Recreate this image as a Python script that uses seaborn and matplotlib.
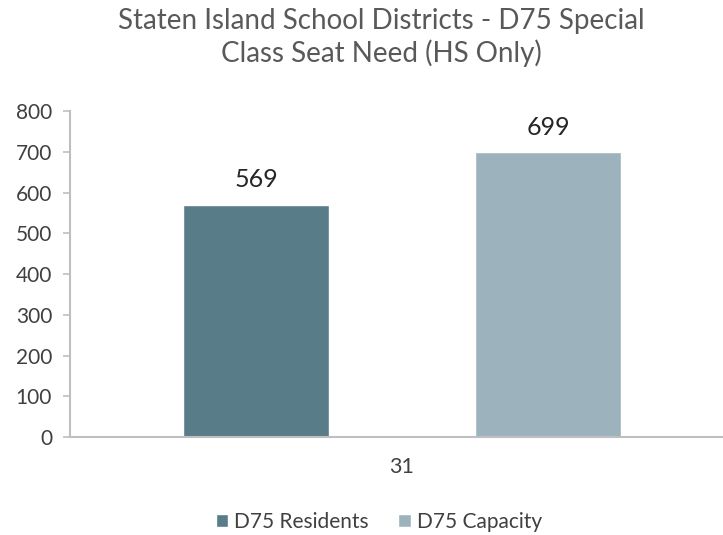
import pandas as pd
import matplotlib
matplotlib.use('Agg')
import matplotlib.pyplot as plt
import seaborn as sns

districts = ['31', '31']
series = ['D75 Residents', 'D75 Capacity']
seats = [569, 699]
colors = ['#587d88', '#9cb3bd']

df = pd.DataFrame({'District': districts, 'Series': series, 'Seats': seats})

sns.set_style('white')
plt.rcParams['font.family'] = ['Lato', 'DejaVu Sans']

fig = plt.figure(figsize=(7.23, 5.35), dpi=100)
ax = fig.add_axes([0.097, 0.183, 0.918, 0.609])
sns.barplot(data=df, x='District', y='Seats', hue='Series', palette=colors,
            width=0.88, gap=0.5, saturation=1, ax=ax, legend=True)

for c in ax.containers:
    ax.bar_label(c, padding=10, fontsize=18, color='#262626')

ax.set_ylim(0, 800)
ax.set_yticks(range(0, 801, 100))
ax.set_xlabel('')
ax.set_ylabel('')
ax.tick_params(axis='y', labelsize=15, length=5, width=1.2, left=True, pad=8,
               direction='out', color='#bfbfbf', labelcolor='#404040')
ax.tick_params(axis='x', labelsize=15.5, labelcolor='#404040', length=0, pad=14)
for s in ['top', 'right']:
    ax.spines[s].set_visible(False)
for s in ['left', 'bottom']:
    ax.spines[s].set_color('#bfbfbf')
    ax.spines[s].set_linewidth(1.5)

ax.legend(loc='center', bbox_to_anchor=(0.465, -0.26), ncol=2, frameon=False,
          fontsize=15, handlelength=0.6, handleheight=0.6, handletextpad=0.3,
          columnspacing=1.4, labelcolor='#404040')

fig.suptitle('Staten Island School Districts - D75 Special\nClass Seat Need (HS Only)',
             x=0.528, y=0.985, fontsize=20, color='#595959', linespacing=1.25)

plt.savefig('out.png', dpi=100)
